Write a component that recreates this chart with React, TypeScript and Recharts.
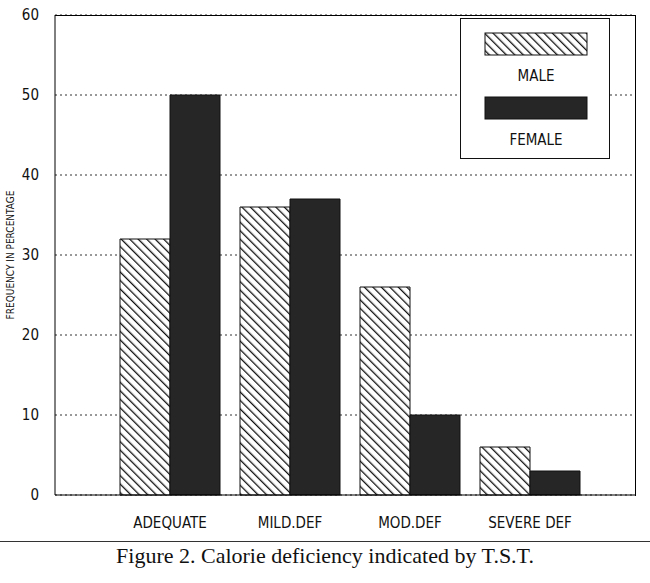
import { BarChart, Bar, XAxis, YAxis, CartesianGrid } from "recharts";

const categories = ["ADEQUATE", "MILD.DEF", "MOD.DEF", "SEVERE DEF"];
const male = [32, 36, 26, 6];
const female = [50, 37, 10, 3];
const yTicks = [0, 10, 20, 30, 40, 50, 60];

const data = categories.map((c, i) => ({ name: c, male: male[i], female: female[i] }));

const FONT = "'Liberation Sans Narrow', 'DejaVu Sans Condensed', Arial, sans-serif";

export default function App() {
  return (
    <div style={{ position: "absolute", left: 0, top: 0, width: 650, height: 583, background: "#fff" }}>
      <BarChart
        width={650}
        height={535}
        data={data}
        margin={{ top: 15, right: 15, bottom: 0, left: 0 }}
        barCategoryGap={10}
        barGap={0}
      >
        <defs>
          <pattern id="hatch" width="6" height="6" patternUnits="userSpaceOnUse" patternTransform="rotate(-45)">
            <rect width="6" height="6" fill="#fff" />
            <line x1="0" y1="0" x2="0" y2="6" stroke="#111" strokeWidth="2.6" />
          </pattern>
        </defs>
        <CartesianGrid vertical={false} stroke="#333" strokeDasharray="2 3" />
        <XAxis
          dataKey="name"
          height={40}
          stroke="#000"
          tickLine={false}
          padding={{ left: 55, right: 45 }}
          tick={{ fill: "#111", fontSize: 15, fontFamily: FONT }}
          tickMargin={16}
        />
        <YAxis
          domain={[0, 60]}
          ticks={yTicks}
          width={55}
          stroke="#000"
          tickLine={false}
          tick={{ fill: "#111", fontSize: 15, fontFamily: FONT }}
          tickMargin={10}
          label={{
            value: "FREQUENCY IN PERCENTAGE",
            angle: -90,
            position: "insideLeft",
            offset: 10,
            style: { fontSize: 10, fontFamily: FONT, fill: "#111", textAnchor: "middle" },
          }}
        />
        <Bar dataKey="male" fill="url(#hatch)" stroke="#111" strokeWidth={1} isAnimationActive={false} />
        <Bar dataKey="female" fill="#262626" stroke="#111" strokeWidth={1} isAnimationActive={false} />
      </BarChart>
      <div
        style={{
          position: "absolute", left: 55, top: 15, width: 580, height: 480,
          borderTop: "1px solid #000", borderRight: "1px solid #000", pointerEvents: "none",
        }}
      />
      <div
        style={{
          position: "absolute", left: 460, top: 18, width: 148, height: 139,
          border: "1.5px solid #111", background: "#fff",
        }}
      >
        <svg width={148} height={139} style={{ position: "absolute", left: 0, top: 0 }}>
          <defs>
            <pattern id="hatch2" width="6" height="6" patternUnits="userSpaceOnUse" patternTransform="rotate(-45)">
              <rect width="6" height="6" fill="#fff" />
              <line x1="0" y1="0" x2="0" y2="6" stroke="#111" strokeWidth="2.6" />
            </pattern>
          </defs>
          <rect x={24} y={14} width={102} height={22} fill="url(#hatch2)" stroke="#111" />
          <rect x={24} y={78} width={102} height={22} fill="#262626" stroke="#111" />
          <text x={75} y={62} textAnchor="middle" fontSize={15} fontFamily={FONT} fill="#111">MALE</text>
          <text x={75} y={126} textAnchor="middle" fontSize={15} fontFamily={FONT} fill="#111">FEMALE</text>
        </svg>
      </div>
      <div style={{ position: "absolute", left: 0, top: 541, width: 650, borderTop: "1.5px solid #333" }} />
      <div
        style={{
          position: "absolute", left: 0, top: 543, width: 650, textAlign: "center",
          fontFamily: "'Liberation Serif', 'DejaVu Serif', serif", fontSize: 22, color: "#111",
        }}
      >
        Figure 2. Calorie deficiency indicated by T.S.T.
      </div>
    </div>
  );
}
